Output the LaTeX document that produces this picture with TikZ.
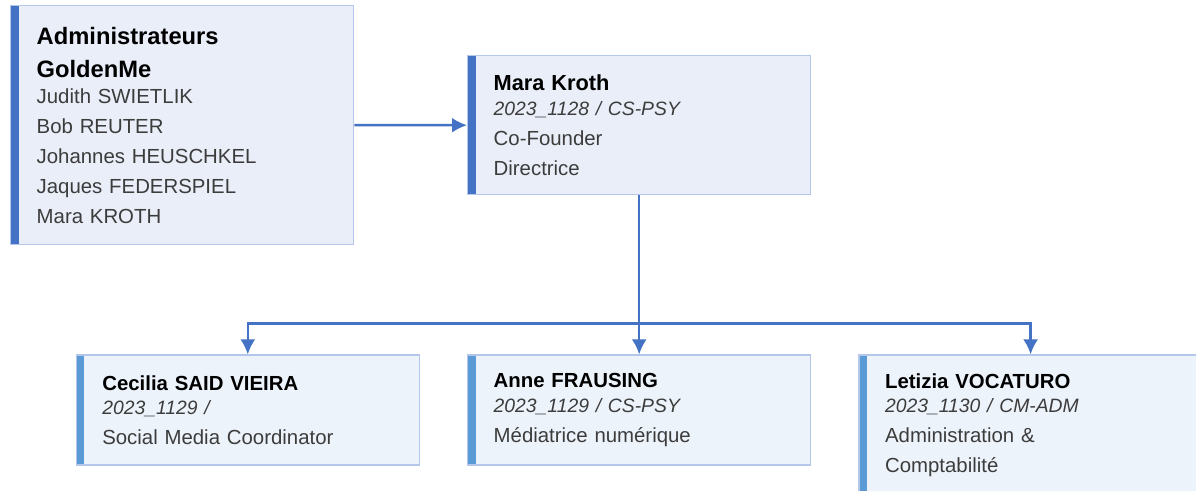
\documentclass[tikz,border=0pt]{standalone}
\usepackage{fontspec}
\setmainfont{Liberation Sans}
\usepackage{tikz}
\usetikzlibrary{positioning, calc, arrows.meta}
\usepackage{xcolor}
\definecolor{cardblue}{HTML}{E9EEF8}
\definecolor{cardlight}{HTML}{EDF3FA}
\definecolor{edgeblue}{HTML}{B4C7EA}
\definecolor{bardark}{HTML}{4472C4}
\definecolor{barlight}{HTML}{5B9BD5}
\definecolor{textgrey}{HTML}{3C3C3C}

\begin{document}
\begin{tikzpicture}
        \tikzstyle{card}=[draw=edgeblue, line width=0.8pt, anchor=north west, minimum width=6.86cm, text width=5.82cm, inner xsep=0.52cm, align=left, font=\fontsize{11.6pt}{17pt}\selectfont, text=textgrey]
        \tikzstyle{topcard}=[card, fill=cardblue, path picture={\fill[bardark] (path picture bounding box.north west) rectangle ([xshift=0.16cm]path picture bounding box.south west);}]
        \tikzstyle{subcard}=[card, fill=cardlight, path picture={\fill[barlight] (path picture bounding box.north west) rectangle ([xshift=0.16cm]path picture bounding box.south west);}]
        \tikzstyle{arrow} = [-{Latex[length=0.3cm, width=0.3cm]}, draw=bardark, line width=1.4pt]

        \clip (0,0) rectangle (23.92,-9.8);

        \node[topcard, minimum height=4.78cm] (admin) at (0.2,-0.1) {\textcolor{black}{\fontsize{13.5pt}{17pt}\selectfont\textbf{Administrateurs}}\\[2pt] \textcolor{black}{\fontsize{13.5pt}{17pt}\selectfont\textbf{GoldenMe}}\\[-2pt] Judith SWIETLIK\\ Bob REUTER\\ Johannes HEUSCHKEL\\ Jaques FEDERSPIEL\\ Mara KROTH};
        \node[topcard, minimum height=2.78cm] (mara) at (9.34,-1.1) {\textcolor{black}{\fontsize{12.4pt}{17pt}\selectfont\textbf{Mara Kroth}}\\[-3pt] {\fontsize{11pt}{17pt}\selectfont\itshape 2023\_1128 / CS-PSY}\\ Co-Founder\\ Directrice};

        \node[subcard, minimum height=2.2cm, below = 3.18cm of mara] (anne) {\textcolor{black}{\textbf{Anne FRAUSING}}\\[-3pt] {\fontsize{11pt}{17pt}\selectfont\itshape 2023\_1129 / CS-PSY}\\ Médiatrice numérique};
        \node[subcard, minimum height=2.2cm, left = 0.94cm of anne] (cecilia) {\textcolor{black}{\textbf{Cecilia SAID VIEIRA}}\\[-3pt] {\fontsize{11pt}{17pt}\selectfont\itshape 2023\_1129 /}\\ Social Media Coordinator};
        \node[subcard, minimum height=2.8cm, right = 0.94cm of anne.north east, anchor=north west] (letizia) {\textcolor{black}{\textbf{Letizia VOCATURO}}\\[-3pt] {\fontsize{11pt}{17pt}\selectfont\itshape 2023\_1130 / CM-ADM}\\ Administration \&\\ Comptabilité};

        \coordinate (bus) at ($(mara.south)!0.805!(anne.north)$);

        \draw[arrow] (admin) -- (mara);
        \draw[arrow] (mara) -- (anne);
        \draw[arrow] (bus) -| (cecilia.north);
        \draw[arrow] (bus) -| (letizia.north);
\end{tikzpicture}
\end{document}
